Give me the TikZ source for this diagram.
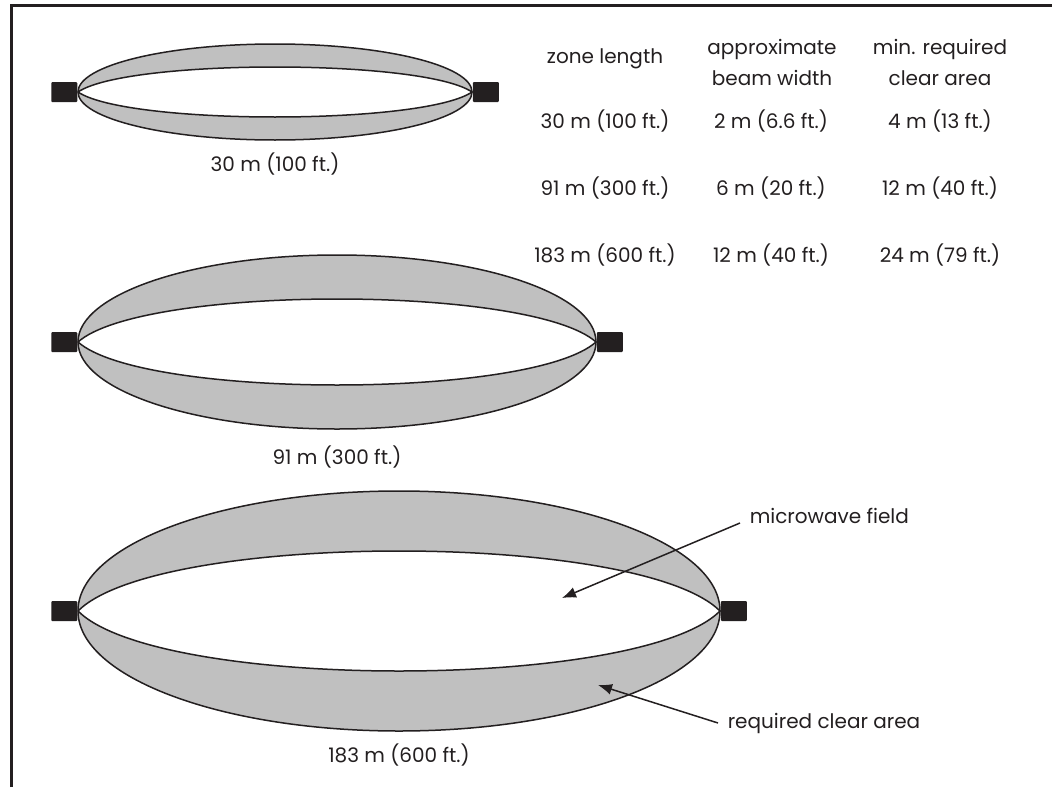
\documentclass[tikz,border=0pt]{standalone}
\usepackage{fontspec}
\setmainfont{Poppins}
\usetikzlibrary{positioning,arrows.meta}
\definecolor{ink}{HTML}{231F20}
\definecolor{beam}{HTML}{C0C0C0}
\tikzset{
	sensor/.style={fill=ink, rounded corners=1pt, minimum width=26pt,
		minimum height=20pt, inner sep=0pt},
	lbl/.style={font=\fontsize{20}{31}\selectfont, text=ink, inner sep=0pt,
		align=center},
}
\begin{document}
\begin{tikzpicture}[x=1pt, y=-1pt, >={Latex[length=14pt,width=11pt]},
	line width=1.5pt, draw=ink]
	\useasboundingbox (0,0) rectangle (1052,787);
	\draw[line width=3pt] (11,787) -- (11,5) -- (1052,5);

	% zones: number / centre x / centre y / half length / outer / inner / label y / text
	\foreach \n/\cx/\cy/\w/\ho/\hi/\ly/\len in {
		1/275/92/197/48/25/171/30 m (100 ft.),
		2/337/342/259/87/43/464/91 m (300 ft.),
		3/399/611/321/120/60/762/183 m (600 ft.)} {
		\coordinate (a\n) at (\cx-\w,\cy);
		\coordinate (b\n) at (\cx+\w,\cy);
		\draw[fill=beam] (\cx,\cy) ellipse [x radius=\w pt, y radius=\ho pt];
		\draw[fill=white] (a\n) .. controls +(\w/4,-4*\hi/3) and +(-\w/4,-4*\hi/3) .. (b\n)
			.. controls +(-\w/4,4*\hi/3) and +(\w/4,4*\hi/3) .. (a\n);
		\node[sensor, left=0pt of a\n] (tx\n) {};
		\node[sensor, right=0pt of b\n] (rx\n) {};
		\node[lbl, anchor=base] (len\n) at (\cx,\ly) {\len};
	}

	% table
	\node[lbl, anchor=base] (hzone) at (605,63) {zone length};
	\node[lbl, anchor=base] (hbeam) at (772,85) {approximate\\beam width};
	\node[lbl, anchor=base] (hclear) at (940,85) {min. required\\clear area};

	\foreach \z/\b/\c [count=\r] in {30 m (100 ft.)/2 m (6.6 ft.)/4 m (13 ft.),
		91 m (300 ft.)/6 m (20 ft.)/12 m (40 ft.),
		183 m (600 ft.)/12 m (40 ft.)/24 m (79 ft.)} {
		\pgfmathsetmacro{\by}{128+67*(\r-1)}
		\node[lbl, anchor=base] (z\r) at (605,\by) {\z};
		\node[lbl, anchor=base] (w\r) at (771,\by) {\b};
		\node[lbl, anchor=base] (c\r) at (940,\by) {\c};
	}

	% callouts
	\node[lbl, anchor=base west] (mw) at (749,523) {microwave field};
	\node[lbl, anchor=base west] (rc) at (727,728) {required clear area};
	\coordinate (fieldtip) at (562,598);
	\coordinate (cleartip) at (598,685);
	\draw[->] ([xshift=-9pt]mw.base west) -- (fieldtip);
	\draw[->] ([xshift=-9pt]rc.west) -- (cleartip);
\end{tikzpicture}
\end{document}
